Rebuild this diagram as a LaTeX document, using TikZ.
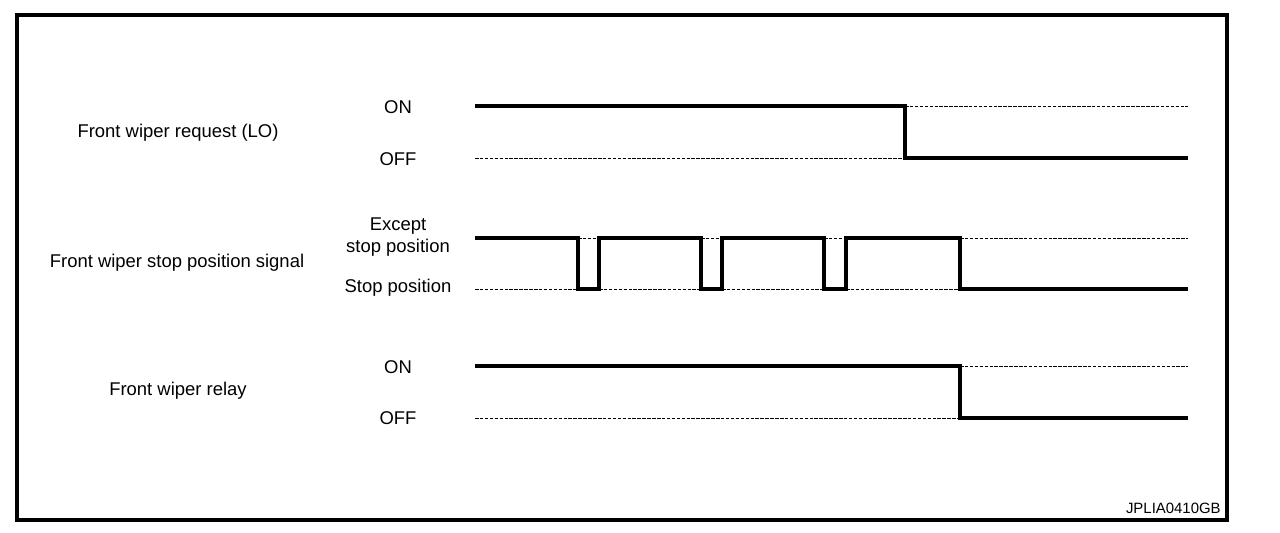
\documentclass[tikz,border=0pt]{standalone}
\usepackage{fontspec}
\setmainfont{Liberation Sans}
\usetikzlibrary{positioning}

\begin{document}
\begin{tikzpicture}[
  x=0.02cm,y=-0.02cm,
  font=\fontsize{10.5}{12.5}\selectfont,
  lbl/.style={inner sep=0pt,align=center},
  sig/.style={line width=2.1pt,line join=miter},
  ref/.style={line width=0.5pt,dash pattern=on 2pt off 0.8pt}
]
\useasboundingbox (0,0) rectangle (1280,532);
\draw[line width=2.3pt] (17,15) rectangle (1227,520);

% signal names
\node[lbl] (req)  at (178,133) {Front wiper request (LO)};
\node[lbl] (stp)  at (177,263) {Front wiper stop position signal};
\node[lbl] (rly)  at (178,391) {Front wiper relay};

% levels
\node[lbl] (reqon)  at (398,107) {ON};
\node[lbl] (reqoff) at (398,159) {OFF};
\node[lbl] (stphi)  at (398,237) {Except\\stop position};
\node[lbl] (stplo)  at (398,288) {Stop position};
\node[lbl] (rlyon)  at (398,367) {ON};
\node[lbl] (rlyoff) at (398,418) {OFF};

\node[lbl,anchor=east] (code) at (1221,508) {\fontsize{8.5}{10}\selectfont JPLIA0410GB};

% request (LO)
\draw[ref] (905,106) -- (1188,106);
\draw[ref] (475,158) -- (905,158);
\draw[sig] (475,106) -- (905,106) -- (905,158) -- (1188,158);

% stop position signal
\foreach \a/\b in {475/578,599/701,722/824,846/960}
  \draw[ref] (\a,289) -- (\b,289);
\foreach \a/\b in {578/599,701/722,824/846,960/1188}
  \draw[ref] (\a,238) -- (\b,238);
\draw[sig] (475,238) -- (578,238) -- (578,289) -- (599,289) -- (599,238)
  -- (701,238) -- (701,289) -- (722,289) -- (722,238)
  -- (824,238) -- (824,289) -- (846,289) -- (846,238)
  -- (960,238) -- (960,289) -- (1188,289);

% relay
\draw[ref] (960,366) -- (1188,366);
\draw[ref] (475,418) -- (960,418);
\draw[sig] (475,366) -- (960,366) -- (960,418) -- (1188,418);
\end{tikzpicture}
\end{document}
